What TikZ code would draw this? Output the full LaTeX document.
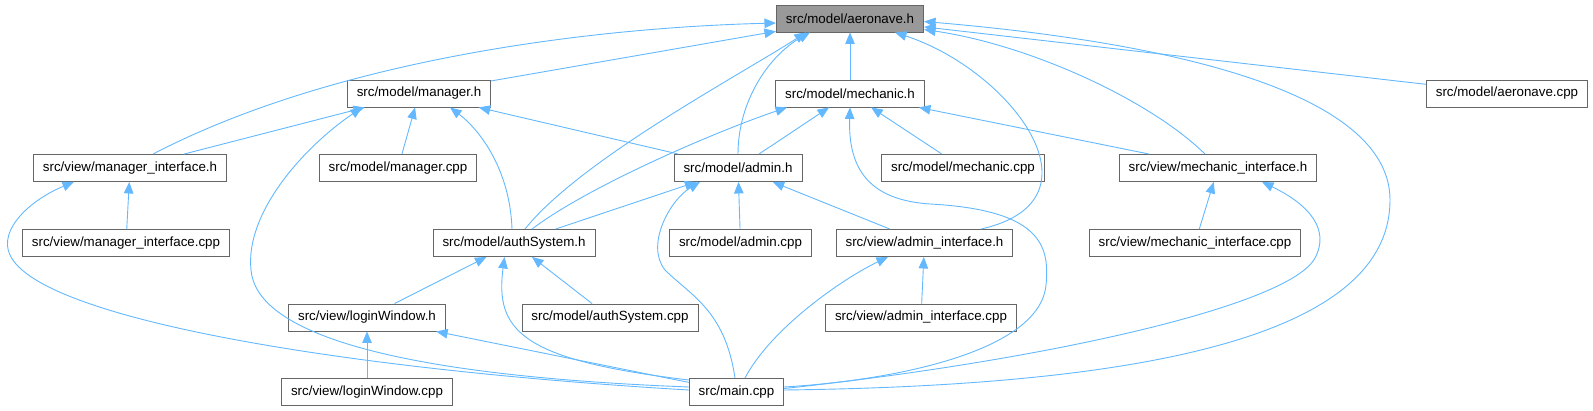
\documentclass[tikz,border=0pt]{standalone}
\usepackage{fontspec}
\setmainfont{Liberation Sans}
\usepackage{xcolor}
\usepackage{tikz}
\usetikzlibrary{arrows.meta}

\definecolor{depblue}{HTML}{63B8FF}
\definecolor{boxgray}{HTML}{666666}
\definecolor{rootgray}{HTML}{999999}

\tikzset{
  file/.style={draw=boxgray, line width=0.9pt, fill=white, minimum height=27pt,
    inner xsep=9.5pt, inner ysep=0pt, font=\fontsize{13.33}{16}\selectfont},
  root/.style={file, fill=rootgray},
  dep/.style={{Triangle[length=11.5pt, width=9.5pt]}-, draw=depblue, line width=0.9pt},
}

\begin{document}
\begin{tikzpicture}[x=1pt, y=-1pt]
    \useasboundingbox (0,0) rectangle (1593,411);

    % Files
    \node[root] (aero) at (850,18.5) {src/model/aeronave.h};
    \node[file] (manager) at (419,93.5) {src/model/manager.h};
    \node[file] (mech) at (850,93.5) {src/model/mechanic.h};
    \node[file] (aerocpp) at (1507,93.5) {src/model/aeronave.cpp};
    \node[file] (mgrif) at (130,168) {src/view/manager\_interface.h};
    \node[file] (mgrcpp) at (398,168) {src/model/manager.cpp};
    \node[file] (admin) at (738,168) {src/model/admin.h};
    \node[file] (mechcpp) at (963,168) {src/model/mechanic.cpp};
    \node[file] (mechif) at (1218,168) {src/view/mechanic\_interface.h};
    \node[file] (mgrifcpp) at (126,243) {src/view/manager\_interface.cpp};
    \node[file] (auth) at (514,243) {src/model/authSystem.h};
    \node[file] (admincpp) at (740.5,243) {src/model/admin.cpp};
    \node[file] (adminif) at (924.5,243) {src/view/admin\_interface.h};
    \node[file] (mechifcpp) at (1195,243) {src/view/mechanic\_interface.cpp};
    \node[file] (login) at (367,317.5) {src/view/loginWindow.h};
    \node[file] (authcpp) at (610,317.5) {src/model/authSystem.cpp};
    \node[file] (adminifcpp) at (921,317.5) {src/view/admin\_interface.cpp};
    \node[file] (logincpp) at (367,392) {src/view/loginWindow.cpp};
    \node[file] (main) at (736.5,392) {src/main.cpp};

    % Who includes aeronave.h
    \draw[dep] ([yshift=-4.5pt]aero.west) .. controls (580,28) and (330,62) .. ([xshift=23pt]mgrif.north);
    \draw[dep] (aero) -- (manager);
    \draw[dep] ([xshift=-44pt]aero.south) .. controls (740,75) and (580,160) .. ([xshift=11pt]auth.north);
    \draw[dep] ([xshift=-40pt]aero.south) .. controls (770,55) and (738,100) .. (admin.north);
    \draw[dep] (aero) -- (mech);
    \draw[dep] ([xshift=45pt]aero.south) .. controls (1010,70) and (1110,200) .. ([xshift=56.5pt]adminif.north);
    \draw[dep] ([yshift=-11pt]aero.east) .. controls (1030,45) and (1150,100) .. ([xshift=-13pt]mechif.north);
    \draw[dep] (aero) -- (aerocpp);
    \draw[dep] ([yshift=-3pt]aero.east) .. controls (1200,45) and (1390,100) .. (1390,200)
        .. controls (1390,320) and (1200,385) .. ([yshift=2pt]main.east);

    % manager.h
    \draw[dep] (manager) -- (mgrif);
    \draw[dep] ([xshift=-57pt]manager.south) .. controls (300,150) and (245,215) .. (251,270)
        .. controls (256,330) and (380,375) .. ([yshift=5pt]main.west);
    \draw[dep] (manager) -- (mgrcpp);
    \draw[dep] ([xshift=31pt]manager.south) .. controls (480,130) and (510,170) .. ([xshift=-2pt]auth.north);
    \draw[dep] (manager) -- (admin);

    % manager_interface.h
    \draw[dep] (mgrif) -- (mgrifcpp);
    \draw[dep] ([xshift=-56pt]mgrif.south) .. controls (30,200) and (-2,230) .. (10,255)
        .. controls (40,320) and (350,370) .. ([yshift=2pt]main.west);

    % mechanic.h
    \draw[dep] ([xshift=-63pt]mech.south) .. controls (720,130) and (590,185) .. ([xshift=18pt]auth.north);
    \draw[dep] (mech) -- (admin);
    \draw[dep] (mech) -- (mechcpp);
    \draw[dep] (mech) -- (mechif);
    \draw[dep] (mech.south) .. controls (848,170) and (870,200) .. (930,204)
        .. controls (1040,210) and (1050,245) .. (1046,285)
        .. controls (1040,350) and (900,380) .. ([yshift=5pt]main.east);

    % admin.h
    \draw[dep] (admin) -- (auth);
    \draw[dep] (admin) -- (admincpp);
    \draw[dep] (admin) -- (adminif);
    \draw[dep] ([xshift=-38pt]admin.south) .. controls (670,200) and (645,245) .. (665,270)
        .. controls (690,295) and (725,310) .. ([xshift=-1.5pt]main.north);

    % mechanic_interface.h
    \draw[dep] (mechif) -- (mechifcpp);
    \draw[dep] ([xshift=44pt]mechif.south) .. controls (1310,205) and (1330,230) .. (1315,258)
        .. controls (1290,305) and (1050,360) .. ([yshift=3.5pt]main.east);

    % authSystem.h
    \draw[dep] (auth) -- (login);
    \draw[dep] (auth) -- (authcpp);
    \draw[dep] ([xshift=-9.5pt]auth.south) .. controls (495,330) and (520,360) .. ([yshift=12pt]main.west);

    % loginWindow.h
    \draw[dep] (login) -- (logincpp);
    \draw[dep] (login) -- (main);

    % admin_interface.h
    \draw[dep] (adminif) -- (adminifcpp);
    \draw[dep] ([xshift=-36.5pt]adminif.south) .. controls (840,280) and (770,330) .. ([xshift=8.5pt]main.north);
\end{tikzpicture}
\end{document}
